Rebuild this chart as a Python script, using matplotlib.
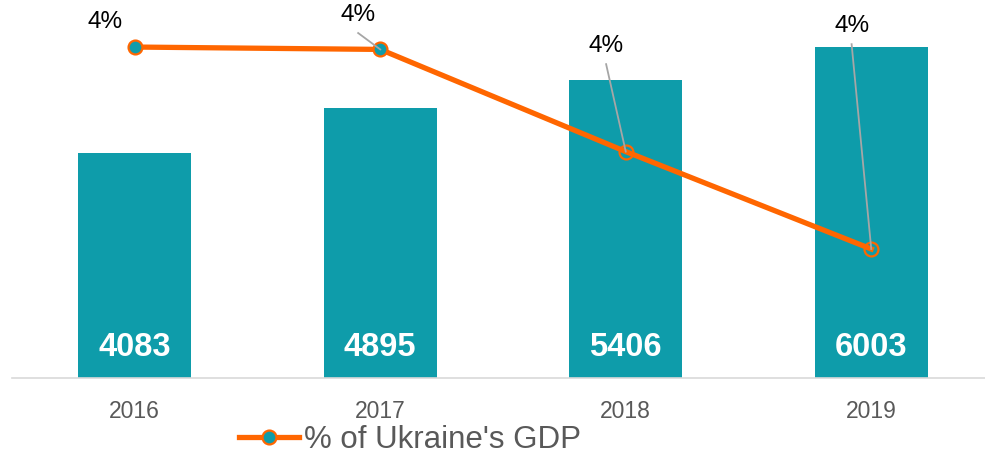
import matplotlib
matplotlib.use("Agg")
import matplotlib.pyplot as plt
from matplotlib.lines import Line2D

plt.rcParams["font.family"] = ["Liberation Sans", "DejaVu Sans"]

# data
years = ["2016", "2017", "2018", "2019"]
budget = [4083, 4895, 5406, 6003]
gdp_share = [4.40, 4.39, 3.96, 3.55]
share_labels = ["4%", "4%", "4%", "4%"]
# label positions (x in category units, y in share units)
label_pos = [(-0.122, 4.505), (0.91, 4.535), (1.92, 4.404), (2.92, 4.488)]
leader = [False, True, True, True]

bar_color = "#0E9CAA"
line_color = "#FF6600"

fig = plt.figure(figsize=(9.85, 4.55), dpi=100)
ax = fig.add_axes([12 / 985, 77 / 455, 973 / 985, 378 / 455])
x = list(range(len(years)))

bars = ax.bar(x, budget, width=0.46, color=bar_color, zorder=2)
for xi, v in zip(x, budget):
    ax.text(xi, 30 * 18.14, str(v), ha="center", va="center", color="white",
            fontsize=23.5, fontweight="bold", zorder=3)

ax.set_xlim(-0.5, -0.5 + 973 / 245.5)
ax.set_ylim(0, 378 * 18.14)
ax.set_yticks([])
ax.set_xticks(x)
ax.set_xticklabels(years, fontsize=16.5, color="#595959")
ax.tick_params(axis="x", length=0, pad=16)
for s in ["top", "right", "left"]:
    ax.spines[s].set_visible(False)
ax.spines["bottom"].set_color("#D9D9D9")
ax.spines["bottom"].set_linewidth(1.2)

ax2 = ax.twinx()
ax2.set_ylim(3.007, 4.598)
ax2.set_yticks([])
for s in ["top", "right", "left", "bottom"]:
    ax2.spines[s].set_visible(False)

ax2.plot(x, gdp_share, color=line_color, lw=3.8, zorder=4)
ax2.plot(x[:2], gdp_share[:2], "o", ms=10, mfc=bar_color, mec=line_color, mew=1.6, zorder=5)
ax2.plot(x[2:], gdp_share[2:], "o", ms=10, mfc="none", mec=line_color, mew=1.6, zorder=5)

for xi, yi, lab, (lx, ly), ld in zip(x, gdp_share, share_labels, label_pos, leader):
    ax2.text(lx, ly, lab, ha="center", va="center", fontsize=17.5, color="black", zorder=6)
    if ld:
        ax2.plot([lx, xi], [ly - 0.076, yi], color="#A6A6A6", lw=1.3, zorder=6)

handle = Line2D([], [], color=line_color, lw=3.8, marker="o", ms=10,
                mfc=bar_color, mec=line_color, mew=1.6)
fig.legend([handle], ["% of Ukraine's GDP"], loc="center",
           bbox_to_anchor=(410 / 985, 15 / 455), frameon=False, fontsize=22.5,
           labelcolor="#595959", handlelength=1.9, handletextpad=0.15,
           borderaxespad=0, borderpad=0)

fig.savefig("out.png", dpi=100)
